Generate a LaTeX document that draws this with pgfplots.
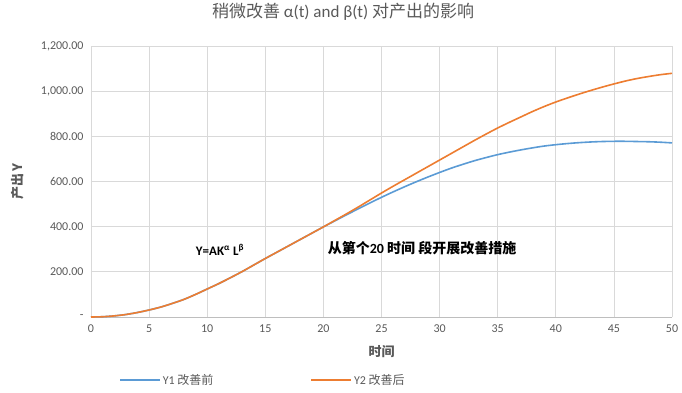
\documentclass[border=0pt]{standalone}
\usepackage{fontspec}
\setmainfont{Carlito}
\newfontfamily\cjk{Noto Sans CJK SC}
\usepackage{pgfplots}
\pgfplotsset{compat=1.18}
\definecolor{eblue}{HTML}{5B9BD5}
\definecolor{eorange}{HTML}{ED7D31}
\definecolor{egrid}{HTML}{D9D9D9}
\definecolor{etext}{HTML}{595959}
\begin{document}
\begin{tikzpicture}
\begin{axis}[
  name=ax,
  width=581pt, height=271pt, scale only axis,
  xmin=0, xmax=50, ymin=0, ymax=1200,
  xtick={0,5,...,50},
  ytick={0,200,...,1200},
  yticklabels={-,200.00,400.00,600.00,800.00,{1,000.00},{1,200.00}},
  /pgf/number format/assume math mode=true,
  grid=major,
  grid style={draw=egrid, line width=0.8pt},
  major tick length=0pt,
  axis x line*=bottom, axis y line*=left,
  x axis line style={draw=egrid!70!gray, line width=0.8pt, -},
  y axis line style={draw=egrid, line width=0.8pt, -},
  tick label style={font=\fontsize{12}{14}\selectfont, text=etext},
  xticklabel style={yshift=-4pt},
  yticklabel style={xshift=-4pt},
  xlabel={\cjk\bfseries 时间},
  ylabel={\cjk\bfseries 产出\,Y},
  label style={font=\fontsize{13}{15}\selectfont, text=etext},
  x label style={at={(axis description cs:0.5,-0.129)}, anchor=center},
  y label style={at={(axis description cs:-0.126,0.5)}, anchor=center, rotate=0},
  title={\cjk 稍微改善 {\fontsize{17}{20}\selectfont\normalfont α(t) and β(t)} 对产出的影响},
  title style={font=\fontsize{17}{20}\selectfont, text=etext, at={(axis description cs:0.434,1.103)}, anchor=center},
  legend columns=2,
  legend style={at={(axis description cs:0.296,-0.232)}, anchor=center, draw=none, fill=none,
    font=\fontsize{12}{14}\selectfont, text=etext,
    /tikz/every even column/.append style={column sep=95pt}},
  legend image code/.code={\draw[#1] (0pt,0pt) -- (40pt,0pt);},
  clip=false,
]
\addplot[eblue, line width=1.6pt, smooth] coordinates {
(0,0) (1,1.2) (2,5) (3,11) (4,20) (5,31) (6,44) (7,60) (8,78) (9,100)
(10,124) (11,148) (12,174) (13,201) (14,230) (15,259) (16,287) (17,315) (18,343) (19,371)
(20,399) (21,426) (22,453) (23,479) (24,505) (25,530) (26,554) (27,577) (28,599) (29,620)
(30,640) (31,659) (32,676) (33,692) (34,706) (35,719) (36,730) (37,740) (38,749) (39,757)
(40,763) (41,768) (42,772) (43,775) (44,777) (45,778) (46,778) (47,777) (48,776) (49,774)
(50,771)};
\addlegendentry{Y1 {\cjk 改善前}}
\addplot[eorange, line width=1.6pt, smooth] coordinates {
(0,0) (1,1.2) (2,5) (3,11) (4,20) (5,31) (6,44) (7,60) (8,78) (9,100)
(10,124) (11,148) (12,174) (13,201) (14,230) (15,259) (16,287) (17,315) (18,343) (19,371)
(20,399) (21,428) (22,457) (23,487) (24,518) (25,549) (26,579) (27,608) (28,637) (29,666)
(30,695) (31,724) (32,753) (33,782) (34,810) (35,837) (36,862) (37,886) (38,910) (39,932)
(40,952) (41,970) (42,987) (43,1003) (44,1018) (45,1032) (46,1045) (47,1056) (48,1065) (49,1073)
(50,1079)};
\addlegendentry{Y2 {\cjk 改善后}}
\node[font=\fontsize{13}{15}\selectfont\bfseries, anchor=center] at (axis cs:11.1,297) {Y=AK\textsuperscript{α} L\textsuperscript{β}};
\node[font=\fontsize{14}{16}\selectfont\bfseries, anchor=center] at (axis cs:28.5,305) {{\cjk 从第个}20 {\cjk 时间 段开展改善措施}};
\end{axis}
\pgfresetboundingbox
\path[use as bounding box] ([shift={(-91pt,-75pt)}]ax.south west) rectangle ([shift={(10pt,46pt)}]ax.north east);
\end{tikzpicture}
\end{document}
